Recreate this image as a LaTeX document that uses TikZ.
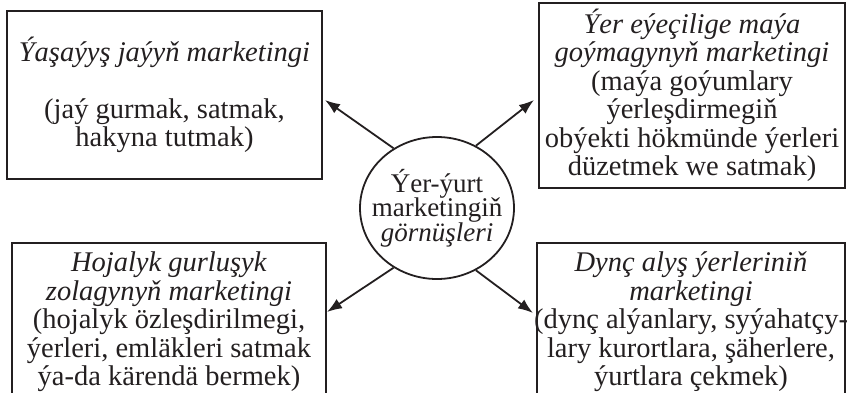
\documentclass[tikz,border=0pt]{standalone}
\usepackage{fontspec}
\setmainfont{Liberation Serif}
\usetikzlibrary{shapes.geometric, arrows.meta, positioning}
\definecolor{inkblack}{RGB}{35, 31, 32}
\newcommand{\boxfont}{\fontsize{28.5}{28.5}\selectfont\lineskiplimit=-30pt\relax}
\newcommand{\hubfont}{\fontsize{27}{24.5}\selectfont\lineskiplimit=-30pt\relax}

\begin{document}
\begin{tikzpicture}[
    x=1pt, y=-1pt,
    every node/.style={font=\boxfont, text=inkblack},
    kindbox/.style={
        rectangle,
        draw=inkblack,
        line width=1.8pt,
        inner sep=0pt,
        align=center
    },
    hubcircle/.style={
        ellipse,
        draw=inkblack,
        line width=1.8pt,
        minimum width=154pt,
        minimum height=142pt,
        inner sep=-40pt,
        align=center,
        font=\hubfont
    },
    arrow/.style={
        line width=1.8pt,
        -{Latex[length=15pt, width=11pt]},
        draw=inkblack
    }
]

% ==================== FRAME ====================
\useasboundingbox (0,0) rectangle (848,392);
\clip (0,0) rectangle (848,392);

% ==================== CENTRE ====================
\node (kinds) [hubcircle] at (437,208) {Ýer-ýurt\\marketingiň\\\textit{görnüşleri}};

% ==================== TOP ROW ====================
\node (housing) [kindbox, minimum width=315pt, minimum height=168pt] at (164.5,95) {
    \textit{Ýaşaýyş jaýyň marketingi}\\[28.5pt]
    (jaý gurmak, satmak,\\
    hakyna tutmak)
};
\node (land) [kindbox, minimum width=306pt, minimum height=185pt] at (692,95.5) {
    \textit{Ýer eýeçilige maýa}\\
    \textit{goýmagynyň marketingi}\\
    (maýa goýumlary\\
    ýerleşdirmegiň\\
    obýekti hökmünde ýerleri\\
    düzetmek we satmak)
};

% ==================== BOTTOM ROW ====================
\node (farm) [kindbox, minimum width=314pt, minimum height=158pt] at (169,322) {
    \textit{Hojalyk gurluşyk}\\
    \textit{zolagynyň marketingi}\\
    (hojalyk özleşdirilmegi,\\
    ýerleri, emläkleri satmak\\
    ýa-da kärendä bermek)
};
\node (leisure) [kindbox, minimum width=308pt, minimum height=158pt] at (691,322) {
    \textit{Dynç alyş ýerleriniň}\\
    \textit{marketingi}\\
    \makebox[300pt]{(dynç alýanlary, syýahatçy-}\\
    lary kurortlara, şäherlere,\\
    ýurtlara çekmek)
};

% ==================== ARROW ENDS ====================
\coordinate (housing_tip) at (325,100);
\coordinate (land_tip) at (534,100);
\coordinate (farm_tip) at (327,312);
\coordinate (leisure_tip) at (533,313);

% ==================== CONNECTIONS ====================
\draw [arrow] (kinds.126) -- (housing_tip);
\draw [arrow] (kinds.58) -- (land_tip);
\draw [arrow] (kinds.234) -- (farm_tip);
\draw [arrow] (kinds.302) -- (leisure_tip);

\end{tikzpicture}
\end{document}
